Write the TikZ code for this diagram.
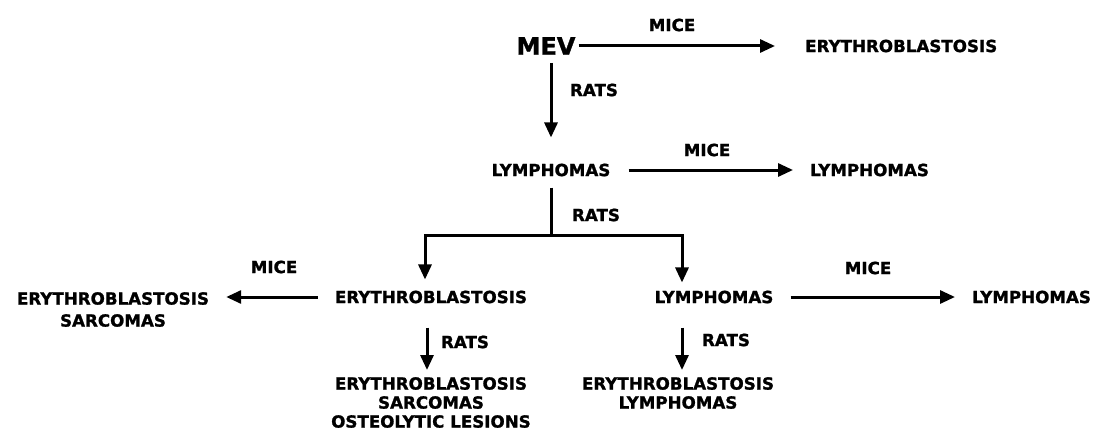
\documentclass[tikz,border=0pt]{standalone}
\usepackage{fontspec}
\newfontfamily\hv[FakeBold=1.3]{DejaVu Sans Bold}
\usetikzlibrary{arrows.meta}
\begin{document}
\begin{tikzpicture}[x=1pt,y=-1pt,
  lbl/.style={font=\hv\fontsize{16.7}{19}\selectfont, inner sep=0pt, align=center},
  big/.style={font=\hv\fontsize{24}{27}\selectfont, inner sep=0pt},
  arr/.style={line width=3pt, -{Triangle[length=15pt,width=13pt]}},
  ln/.style={line width=3pt}]
\useasboundingbox[fill=white] (0,0) rectangle (1102,444);
% nodes
\node[big] (mev) at (546,46) {MEV};
\node[lbl, anchor=west] (erytop) at (805,46) {ERYTHROBLASTOSIS};
\node[lbl] (m1) at (672,25) {MICE};
\node[lbl] (r1) at (594,90) {RATS};
\node[lbl] (ly1) at (551,170) {LYMPHOMAS};
\node[lbl, anchor=west] (ly1r) at (810,170) {LYMPHOMAS};
\node[lbl] (m2) at (707,150) {MICE};
\node[lbl] (r2) at (596,215) {RATS};
\coordinate (bj) at (551,235);
\coordinate (bl) at (425,235);
\coordinate (br) at (682,235);
\node[lbl] (ery2) at (431,297) {ERYTHROBLASTOSIS};
\node[lbl] (ly2) at (714,297) {LYMPHOMAS};
\node[lbl, anchor=north] (eryL) at (113,292) {ERYTHROBLASTOSIS\\[3pt]SARCOMAS};
\node[lbl] (m3) at (274,267) {MICE};
\node[lbl, anchor=west] (ly2r) at (972,297) {LYMPHOMAS};
\node[lbl] (m4) at (868,268) {MICE};
\node[lbl] (r3) at (465,342) {RATS};
\node[lbl] (r4) at (726,340) {RATS};
\node[lbl, anchor=north] (ery3) at (431,377) {ERYTHROBLASTOSIS\\SARCOMAS\\OSTEOLYTIC LESIONS};
\node[lbl, anchor=north] (ery4) at (678,377) {ERYTHROBLASTOSIS\\LYMPHOMAS};
% connectors
\draw[arr, shorten <=3pt, shorten >=30pt] (mev.east) -- (erytop.west);
\draw[arr, shorten <=8pt, shorten >=26pt] (mev.south -| ly1.north) -- (ly1.north);
\draw[arr, shorten <=18pt, shorten >=17pt] (ly1.east) -- (ly1r.west);
\draw[ln, shorten <=11pt] (ly1.south) -- (bj);
\draw[arr, shorten >=11pt] (bj) -| (bl |- ery2.north);
\draw[arr, shorten >=8pt] (bj) -| (br |- ly2.north);
\draw[arr, shorten <=17pt, shorten >=17pt] (ery2.west) -- (ery2.west -| eryL.east);
\draw[arr, shorten <=17pt, shorten >=17pt] (ly2.east) -- (ly2r.west);
\draw[arr, shorten <=24pt, shorten >=7pt] ([xshift=-4pt]ery2.south) -- ([xshift=-4pt]ery3.north);
\draw[arr, shorten <=24pt, shorten >=7pt] (ly2.south -| br) -- (ery4.north -| br);
\end{tikzpicture}
\end{document}
